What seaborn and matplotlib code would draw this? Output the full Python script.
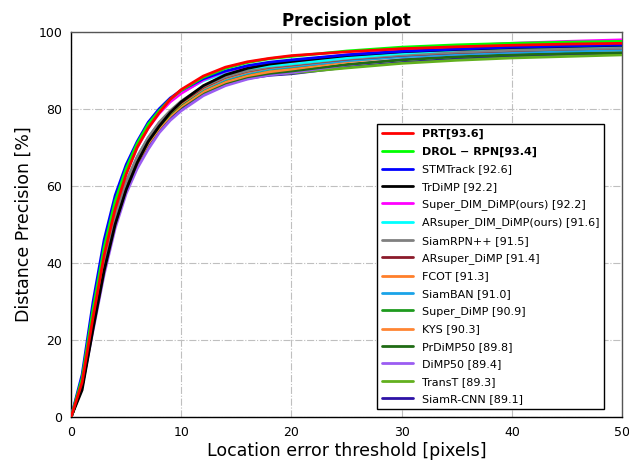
import numpy as np
import pandas as pd
import matplotlib
matplotlib.use("Agg")
import matplotlib.pyplot as plt
import seaborn as sns

thresholds = [0, 1, 2, 3, 4, 5, 6, 7, 8, 9, 10, 12, 14, 16, 18, 20, 25, 30, 35, 40, 45, 50]

trackers = [
    "PRT[93.6]",
    "DROL \u2212 RPN[93.4]",
    "STMTrack [92.6]",
    "TrDiMP [92.2]",
    "Super_DIM_DiMP(ours) [92.2]",
    "ARsuper_DIM_DiMP(ours) [91.6]",
    "SiamRPN++ [91.5]",
    "ARsuper_DiMP [91.4]",
    "FCOT [91.3]",
    "SiamBAN [91.0]",
    "Super_DiMP [90.9]",
    "KYS [90.3]",
    "PrDiMP50 [89.8]",
    "DiMP50 [89.4]",
    "TransT [89.3]",
    "SiamR-CNN [89.1]",
]
bold_labels = ["PRT[93.6]", "DROL \u2212 RPN[93.4]"]

colors = ["#ff0000", "#00ff00", "#0000ff", "#000000", "#ff00ff", "#00ffff",
          "#808080", "#8b1a2a", "#ff7f2a", "#1aa3e8", "#1e9a1e", "#ff8533",
          "#1f6b14", "#9b5cf2", "#62b01e", "#2d12a6"]

prt = [0, 9, 26, 42, 54, 63, 70, 75, 79, 82.5, 85, 88.5, 90.8, 92.2, 93.1, 93.8, 94.8, 95.6, 96.1, 96.5, 96.8, 97.0]
drol = [0, 10, 28, 44, 56, 64.5, 71, 76, 79.5, 82.5, 84.8, 88.2, 90.5, 92, 93, 93.6, 95, 96, 96.6, 97, 97.3, 97.5]
stmtrack = [0, 11, 30, 46, 57.5, 65.5, 71.5, 76.5, 80, 82.8, 84.8, 87.8, 89.8, 91.2, 92.1, 92.7, 94, 94.9, 95.5, 96, 96.3, 96.6]
trdimp = [0, 7, 23, 38, 50, 59, 66, 71.5, 75.5, 79, 81.8, 86, 88.8, 90.5, 91.6, 92.3, 93.8, 94.8, 95.4, 95.9, 96.2, 96.5]
super_dim = [0, 9.5, 27, 43, 55, 63.5, 70, 75, 78.8, 81.8, 84, 87.5, 89.7, 91, 91.8, 92.3, 94, 95.4, 96.3, 97, 97.5, 97.9]
arsuper_dim = [0, 10, 28, 44, 56, 64, 70.5, 75.5, 79, 82, 84.2, 87.3, 89.3, 90.5, 91.2, 91.7, 93.2, 94.4, 95.3, 95.9, 96.2, 96.4]
siamrpnpp = [0, 8, 24.5, 40, 52, 61, 67.5, 72.5, 76.5, 79.5, 82, 85.8, 88.3, 89.9, 90.9, 91.5, 93, 94, 94.7, 95.2, 95.5, 95.8]
arsuper_dimp = [0, 8, 24, 39.5, 51.5, 60.5, 67, 72, 76, 79.2, 81.7, 85.6, 88.2, 89.8, 90.8, 91.4, 92.9, 93.9, 94.6, 95.1, 95.5, 95.8]
fcot = [0, 8.5, 24.5, 40, 52, 60.5, 67, 72, 76, 79, 81.5, 85.4, 88, 89.6, 90.7, 91.3, 93, 94.2, 95, 95.5, 95.8, 96]
siamban = [0, 9, 25.5, 41, 52.5, 61, 67.5, 72.5, 76.3, 79.2, 81.5, 85.2, 87.7, 89.3, 90.4, 91, 92.5, 93.5, 94.2, 94.7, 95, 95.3]
super_dimp = [0, 8, 24, 39, 51, 60, 66.5, 71.5, 75.5, 78.7, 81.2, 85.1, 87.6, 89.2, 90.3, 90.9, 92.6, 93.8, 94.6, 95.2, 95.6, 95.9]
kys = [0, 8, 23.5, 38.5, 50.5, 59.5, 66, 71, 75, 78.2, 80.7, 84.5, 87, 88.6, 89.6, 90.3, 92.2, 93.6, 94.5, 95.1, 95.5, 95.8]
prdimp50 = [0, 8, 23.5, 38.5, 50.5, 59.5, 66, 71, 75, 78.2, 80.5, 84.3, 86.7, 88.3, 89.2, 89.8, 91.5, 92.7, 93.5, 94, 94.4, 94.6]
dimp50 = [0, 8, 22.5, 37, 49, 58, 64.5, 69.5, 73.8, 77, 79.5, 83.4, 86, 87.7, 88.8, 89.4, 91.4, 92.8, 93.8, 94.5, 95, 95.4]
transt = [0, 9, 25, 40, 51.5, 60, 66.5, 71.5, 75.3, 78.3, 80.6, 84.2, 86.6, 88.1, 88.9, 89.3, 90.6, 91.8, 92.6, 93.2, 93.6, 94]
siamrcnn = [0, 8.5, 24, 39, 50.5, 59, 65.5, 70.5, 74.5, 77.5, 80, 83.8, 86.3, 87.9, 88.7, 89.1, 90.8, 92, 92.9, 93.5, 94, 94.3]

series = [prt, drol, stmtrack, trdimp, super_dim, arsuper_dim, siamrpnpp, arsuper_dimp,
          fcot, siamban, super_dimp, kys, prdimp50, dimp50, transt, siamrcnn]

rows = []
for name, vals in zip(trackers, series):
    for t, v in zip(thresholds, vals):
        rows.append({"threshold": t, "precision": v, "tracker": name})
df = pd.DataFrame(rows)

sns.set_style("white")
plt.rcParams["font.family"] = ["DejaVu Sans"]
plt.rcParams["text.color"] = "black"
plt.rcParams["axes.labelcolor"] = "black"
plt.rcParams["xtick.color"] = "black"
plt.rcParams["ytick.color"] = "black"

fig = plt.figure(figsize=(6.29, 4.63), dpi=100)
ax = fig.add_axes([0.113, 0.0994, 0.876, 0.832])

sns.lineplot(data=df, x="threshold", y="precision", hue="tracker",
             hue_order=trackers, palette=dict(zip(trackers, colors)),
             linewidth=2, ax=ax, legend=True, estimator=None, sort=True)
for i, line in enumerate(ax.get_lines()):
    line.set_zorder(3 + len(trackers) - i)

ax.set_xlim(0, 50)
ax.set_ylim(0, 100)
ax.set_xticks([0, 10, 20, 30, 40, 50])
ax.set_yticks([0, 20, 40, 60, 80, 100])
ax.tick_params(axis="both", labelsize=9, direction="out", length=3, width=1,
               colors="black", labelcolor="black")
ax.grid(True, linestyle="-.", color="#bfbfbf", linewidth=0.8)
for s in ax.spines.values():
    s.set_color("black")
    s.set_linewidth(1.0)
ax.spines["top"].set_color("#555555")
ax.spines["right"].set_color("#555555")

ax.set_title("Precision plot", fontsize=12, fontweight="bold", pad=4, color="black")
ax.set_xlabel("Location error threshold [pixels]", fontsize=12.5, labelpad=2, color="black")
ax.set_ylabel("Distance Precision [%]", fontsize=12.5, labelpad=4, color="black")

handles, labels = ax.get_legend_handles_labels()
leg = ax.legend(handles, labels, loc="lower right", bbox_to_anchor=(0.978, 0.006),
                fontsize=8, frameon=True, fancybox=False, edgecolor="black",
                framealpha=1, handlelength=2.8, labelspacing=0.665, borderpad=0.45)
leg.get_frame().set_linewidth(1.0)
for l in leg.get_lines():
    l.set_linewidth(2)
for t in leg.get_texts():
    t.set_color("black")
    if t.get_text() in bold_labels:
        t.set_fontweight("bold")

fig.savefig("out.png", dpi=100)
